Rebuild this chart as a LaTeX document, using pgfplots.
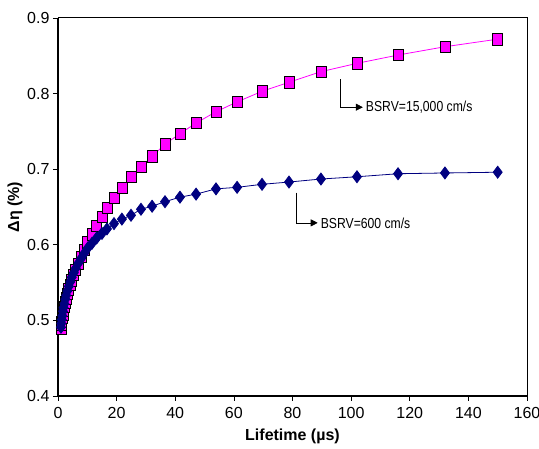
\documentclass[border=0pt]{standalone}
\usepackage{pgfplots}
\pgfplotsset{compat=1.18}
\usepackage{fontspec}
\setmainfont{Liberation Sans}
\usetikzlibrary{arrows.meta}
\definecolor{mag}{RGB}{255,0,255}
\definecolor{navyb}{RGB}{0,0,128}
\begin{document}
\begin{tikzpicture}
\begin{axis}[
  scale only axis,
  width=469pt, height=378pt,
  xmin=0, xmax=160, ymin=0.4, ymax=0.9,
  xtick={0,20,...,160},
  ytick={0.4,0.5,...,0.9},
  yticklabel style={/pgf/number format/.cd,fixed,fixed zerofill,precision=1},
  xticklabel style={yshift=-3pt},
  /pgf/number format/assume math mode=true,
  tick label style={font=\fontsize{16}{16}\selectfont},
  axis line style={line width=2.5pt},
  axis x line*=bottom, axis y line*=left,
  tick style={black, line width=0.6pt},
  tick align=outside,
  major tick length=5pt,
  xlabel={\bfseries Lifetime (µs)},
  ylabel={\bfseries Δη (\%)},
  label style={font=\fontsize{16}{16}\selectfont},
  xlabel style={yshift=-3pt},
  ylabel style={yshift=-2pt},
  clip=false,
]
\draw[line width=1pt] (axis cs:0,0.9) -- (axis cs:160,0.9) -- (axis cs:160,0.4);
\addplot[mag, line width=0.8pt, mark=square*, mark size=5pt,
  mark options={fill=mag, draw=black, line width=0.8pt, yscale=1.15}] coordinates {
(1.0,0.489)(1.15,0.494)(1.3,0.498)(1.5,0.503)(1.7,0.508)(1.9,0.513)(2.2,0.518)(2.5,0.524)
(2.8,0.529)(3.2,0.535)(3.7,0.541)(4.2,0.547)(4.7,0.553)(5.4,0.560)(6.1,0.567)(7.0,0.575)
(7.9,0.584)(9.0,0.593)(10.2,0.603)(11.6,0.614)(13.2,0.625)
(15.0,0.637)(16.7,0.649)(19.1,0.662)(21.8,0.675)(24.9,0.690)(28.3,0.703)(32.1,0.717)
(36.5,0.733)(41.6,0.747)(47.1,0.761)(53.9,0.776)(61.1,0.789)(69.6,0.803)(78.8,0.815)
(89.7,0.829)(102,0.840)(116,0.851)(132,0.862)(150,0.872)
};
\addplot[navyb, line width=0.8pt, mark=diamond*, mark size=6pt,
  mark options={fill=navyb, draw=navyb}] coordinates {
(1.0,0.491)(1.15,0.496)(1.3,0.501)(1.5,0.506)(1.7,0.512)(1.9,0.517)(2.2,0.522)(2.5,0.528)
(2.8,0.533)(3.2,0.539)(3.7,0.545)(4.2,0.551)(4.7,0.557)(5.4,0.563)(6.1,0.569)(7.0,0.576)
(7.9,0.582)(9.0,0.589)(10.2,0.596)(11.6,0.602)(13.2,0.609)
(15.0,0.615)(16.7,0.621)(19.1,0.628)(21.8,0.634)(24.9,0.639)(28.3,0.647)(32.1,0.651)
(36.5,0.657)(41.6,0.663)(47.1,0.667)(53.9,0.674)(61.1,0.676)(69.6,0.680)(78.8,0.683)
(89.7,0.687)(102,0.690)(116,0.694)(132,0.695)(150,0.696)
};
\draw[black, line width=0.6pt, -{Triangle[length=7pt,width=7pt]}]
  (axis cs:96.2,0.819) |- (axis cs:104.0,0.782);
\node[anchor=west, inner sep=0pt, font=\fontsize{14.5}{14.5}\selectfont]
  at (axis cs:105.0,0.782) {\scalebox{0.84}[1]{BSRV=15,000 cm/s}};
\draw[black, line width=0.6pt, -{Triangle[length=7pt,width=7pt]}]
  (axis cs:81.2,0.669) |- (axis cs:88.6,0.629);
\node[anchor=west, inner sep=0pt, font=\fontsize{14.5}{14.5}\selectfont]
  at (axis cs:89.6,0.629) {\scalebox{0.84}[1]{BSRV=600 cm/s}};
\end{axis}
\pgfresetboundingbox
\path[use as bounding box] ([xshift=-58pt,yshift=-53pt]current axis.south west) rectangle ([xshift=12pt,yshift=18pt]current axis.north east);
\end{tikzpicture}
\end{document}
